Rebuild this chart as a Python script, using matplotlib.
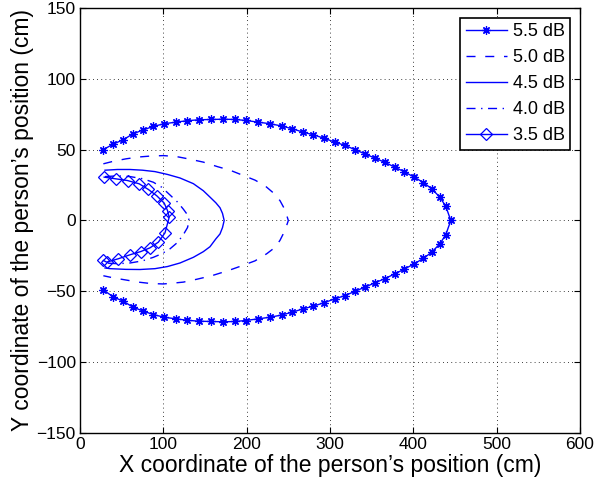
import matplotlib
matplotlib.use('Agg')
import matplotlib.pyplot as plt

plt.rcParams['font.family'] = ['Liberation Sans', 'DejaVu Sans']

# 5.5 dB (asterisks)
x55 = [28, 40, 52, 63, 76, 88, 101, 115, 128, 143, 157, 172, 186, 199, 214, 228, 242,
       255, 268, 280, 293, 306, 318, 330, 342, 354, 366, 378, 389, 401, 412, 422, 432, 439, 445,
       439, 432, 422, 412, 401, 389, 378, 366, 354, 342, 330, 318, 306, 293, 280, 268, 255,
       242, 228, 214, 199, 186, 172, 157, 143, 128, 115, 101, 88, 76, 63, 52, 40, 28]
y55 = [50, 54, 57, 61, 64, 66.4, 68.3, 69.4, 70.4, 71.1, 71.3, 71.5, 71.3, 70.6, 69.4, 68.3, 66.7,
       64.7, 62.3, 60.5, 58, 55.3, 53, 50, 47, 44, 41, 37.6, 34.4, 30.6, 26.8, 22.4, 16.4, 9.9, 0,
       -9.9, -16.4, -22.4, -26.8, -30.6, -34.4, -37.6, -41, -44, -47, -50, -53, -55.3, -58, -60.5, -62.3, -64.7,
       -66.7, -68.3, -69.4, -70.6, -71.3, -71.5, -71.3, -71.1, -70.4, -69.4, -68.3, -66.4, -64, -61, -57, -54, -49]

# 5.0 dB (dashed)
x50 = [28, 40, 55, 70, 85, 100, 115, 130, 148, 165, 180, 195, 210, 222, 232, 240, 246, 250,
       246, 240, 234, 224, 210, 194, 182, 170, 158, 140, 124, 112, 100, 85, 70, 55, 40, 28]
y50 = [40, 41.8, 43.5, 44.8, 45.5, 45.8, 45.2, 43.5, 41.2, 38, 35.5, 32, 28.5, 24.5, 19.5, 14, 7.5, 0,
       -7, -14, -19, -23.5, -28.5, -32, -34.5, -36.8, -39, -41.5, -43.5, -44.2, -44.8, -44.5, -43.5, -42, -40.5, -39]

# 4.5 dB (solid)
x45 = [30, 45, 60, 75, 90, 105, 120, 136, 148, 156, 163, 168, 171, 173,
       171, 168, 163, 156, 148, 136, 120, 105, 90, 72, 55, 36, 30]
y45 = [35.5, 36, 36, 35.5, 34.5, 32.5, 30, 26, 21, 16.5, 12.5, 9, 5, 0,
       -5, -9.5, -13, -18.5, -22, -26, -30, -32.5, -34, -34.6, -34.5, -34, -33.5]

# 4.0 dB (dash-dot)
x40 = [30, 45, 60, 75, 88, 98, 108, 117, 124, 129, 131,
       129, 124, 117, 108, 98, 88, 75, 60, 45, 30]
y40 = [31, 31.5, 31, 29.5, 27, 23.5, 18, 13, 8, 4, 0,
       -5, -10, -15.5, -20, -23.5, -26, -28.5, -30, -30.5, -30]

# 3.5 dB (diamonds)
x35 = [29, 43, 57, 71, 82, 92, 101, 105, 107, 102, 94, 84, 73, 60, 46, 32, 28]
y35 = [30.6, 29.4, 28.2, 25.9, 21.9, 17.5, 12.3, 7, 2.3, -8.7, -15.3, -19.3, -21.9, -24.2, -27, -29.4, -28.2]

labels = ['5.5 dB', '5.0 dB', '4.5 dB', '4.0 dB', '3.5 dB']

fig = plt.figure(figsize=(5.94, 4.87), dpi=100)
ax = fig.add_axes([0.1347, 0.1109, 0.8417, 0.8727])

ax.plot(x55, y55, color='blue', lw=1, marker=(8, 2, 0), markersize=6, markeredgewidth=0.9, label=labels[0])
ax.plot(x50, y50, color='blue', lw=1, linestyle=(0, (6.5, 7)), label=labels[1])
ax.plot(x45, y45, color='blue', lw=1, label=labels[2])
ax.plot(x40, y40, color='blue', lw=1, linestyle=(0, (6.5, 4, 1, 4)), label=labels[3])
ax.plot(x35, y35, color='blue', lw=1, marker='D', markersize=6, markerfacecolor='none',
        markeredgewidth=0.9, label=labels[4])

ax.set_xlim(0, 600)
ax.set_ylim(-150, 150)
ax.set_xticks(range(0, 601, 100))
ax.set_yticks(range(-150, 151, 50))
ax.grid(True, linestyle=(0, (1, 4)), color='black', lw=0.6)
ax.tick_params(direction='in', top=True, right=True, labelsize=12.5, length=4, pad=3)
ax.set_xlabel("X coordinate of the person\u2019s position (cm)", fontsize=16.5, labelpad=1)
ax.set_ylabel("Y coordinate of the person\u2019s position (cm)", fontsize=16.5, labelpad=2)
for s in ax.spines.values():
    s.set_linewidth(1)

leg = ax.legend(loc='upper right', fontsize=13, numpoints=1, handlelength=2.3,
                fancybox=False, framealpha=1, edgecolor='black', borderpad=0.3,
                labelspacing=0.5, handletextpad=0.3, borderaxespad=0.55)
leg.get_frame().set_linewidth(1.2)

fig.savefig('out.png', dpi=100)
